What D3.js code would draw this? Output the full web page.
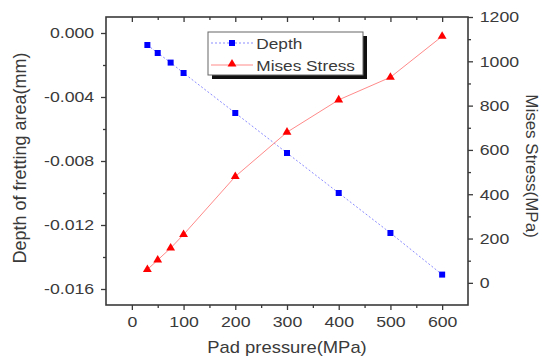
<!DOCTYPE html>
<html>
<head>
<meta charset="utf-8">
<script src="https://cdn.jsdelivr.net/npm/d3@7"></script>
<style>
  body { margin: 0; background: #fff; }
  svg { display: block; font-family: "Liberation Sans", Arial, sans-serif; }
</style>
</head>
<body>
<div id="chart"></div>
<script>
// pad pressure (MPa)
const pressure = [30, 50, 75, 100, 200, 300, 400, 500, 600]
// depth of fretting area (mm)
const depth = [-0.00075, -0.00125, -0.00185, -0.0025, -0.005, -0.0075, -0.01, -0.0125, -0.0151]
// Mises stress (MPa)
const mises = [60, 103, 157, 218, 480, 680, 826, 928, 1113]

const xTicks = [0, 100, 200, 300, 400, 500, 600]
const xMinor = [50, 150, 250, 350, 450, 550]
const leftTicks = [-0.016, -0.012, -0.008, -0.004, 0.000]
const leftMinor = [-0.014, -0.010, -0.006, -0.002]
const rightTicks = [0, 200, 400, 600, 800, 1000, 1200]
const rightMinor = [100, 300, 500, 700, 900, 1100]

const W = 542, H = 357
const MARGIN = {left: 106, right: 74, top: 17, bottom: 52}
const STRETCH = "scale(1.18,1)"
const INK = "#3a3a3a"

const svg = d3.select("#chart").append("svg").attr("width", W).attr("height", H)

const x = d3.scaleLinear().domain([-50, 650]).range([MARGIN.left, W - MARGIN.right])
const yL = d3.scaleLinear().domain([-0.017, 0.001]).range([H - MARGIN.bottom, MARGIN.top])
const yR = d3.scaleLinear().domain([-100, 1200]).range([H - MARGIN.bottom, MARGIN.top])

const fmtL = v => d3.format(".3f")(v).replace("\u2212", "-")

function styleAxis(g) {
  g.select(".domain").remove()
  g.selectAll("line").attr("stroke", INK).attr("stroke-width", 1.3)
  g.selectAll("text")
    .attr("fill", INK)
    .style("font-size", "15px")
    .attr("transform", STRETCH)
}

// minor ticks first
svg.append("g").attr("transform", `translate(0,${H - MARGIN.bottom})`)
  .call(d3.axisBottom(x).tickValues(xMinor).tickSize(3).tickFormat(""))
  .call(styleAxis)
svg.append("g").attr("transform", `translate(0,${MARGIN.top})`)
  .call(d3.axisTop(x).tickValues(xMinor).tickSize(-3).tickFormat(""))
  .call(styleAxis)
svg.append("g").attr("transform", `translate(${MARGIN.left},0)`)
  .call(d3.axisLeft(yL).tickValues(leftMinor).tickSize(3).tickFormat(""))
  .call(styleAxis)
svg.append("g").attr("transform", `translate(${W - MARGIN.right},0)`)
  .call(d3.axisRight(yR).tickValues(rightMinor).tickSize(3).tickFormat(""))
  .call(styleAxis)

// major ticks
svg.append("g").attr("transform", `translate(0,${H - MARGIN.bottom})`)
  .call(d3.axisBottom(x).tickValues(xTicks).tickSize(5).tickPadding(6))
  .call(styleAxis)
svg.append("g").attr("transform", `translate(0,${MARGIN.top})`)
  .call(d3.axisTop(x).tickValues(xTicks).tickSize(-5).tickFormat(""))
  .call(styleAxis)
svg.append("g").attr("transform", `translate(${MARGIN.left},0)`)
  .call(d3.axisLeft(yL).tickValues(leftTicks).tickSize(5).tickPadding(5).tickFormat(fmtL))
  .call(styleAxis)
svg.append("g").attr("transform", `translate(${W - MARGIN.right},0)`)
  .call(d3.axisRight(yR).tickValues(rightTicks).tickSize(5).tickPadding(5).tickFormat(d3.format("d")))
  .call(styleAxis)

// frame
svg.append("rect")
  .attr("x", MARGIN.left).attr("y", MARGIN.top)
  .attr("width", W - MARGIN.left - MARGIN.right)
  .attr("height", H - MARGIN.top - MARGIN.bottom)
  .attr("fill", "none").attr("stroke", INK).attr("stroke-width", 1.6)

// depth series
svg.append("path")
  .datum(d3.zip(pressure, depth))
  .attr("d", d3.line().x(d => x(d[0])).y(d => yL(d[1])))
  .attr("fill", "none").attr("stroke", "#8c8cff").attr("stroke-width", 1)
  .attr("stroke-dasharray", "2,2")
svg.append("g").selectAll("rect")
  .data(d3.zip(pressure, depth))
  .join("rect")
  .attr("x", d => x(d[0]) - 3).attr("y", d => yL(d[1]) - 3)
  .attr("width", 6).attr("height", 6)
  .attr("fill", "#0000ff")

// mises series
const tri = d3.symbol().type(d3.symbolTriangle).size(34)
svg.append("path")
  .datum(d3.zip(pressure, mises))
  .attr("d", d3.line().x(d => x(d[0])).y(d => yR(d[1])))
  .attr("fill", "none").attr("stroke", "#ff8a8a").attr("stroke-width", 1)
svg.append("g").selectAll("path")
  .data(d3.zip(pressure, mises))
  .join("path")
  .attr("d", tri)
  .attr("transform", d => `translate(${x(d[0])},${yR(d[1])})`)
  .attr("fill", "#ff0000")

// legend
const lg = svg.append("g").attr("transform", "translate(208,32)")
lg.append("rect").attr("x", 4).attr("y", 4).attr("width", 155).attr("height", 43).attr("fill", "#111")
lg.append("rect").attr("x", 0).attr("y", 0).attr("width", 155).attr("height", 43)
  .attr("fill", "#fff").attr("stroke", "#666").attr("stroke-width", 1)
lg.append("line").attr("x1", 3).attr("x2", 45).attr("y1", 11).attr("y2", 11)
  .attr("stroke", "#8c8cff").attr("stroke-dasharray", "2,2")
lg.append("rect").attr("x", 21).attr("y", 8).attr("width", 6).attr("height", 6).attr("fill", "#0000ff")
lg.append("line").attr("x1", 3).attr("x2", 45).attr("y1", 33).attr("y2", 33).attr("stroke", "#ff8a8a")
lg.append("path").attr("d", tri).attr("transform", "translate(24,32)").attr("fill", "#ff0000")
lg.append("text").attr("x", 49).attr("y", 17).attr("transform", "scale(1.15,1) translate(-7,0)")
  .attr("fill", INK).style("font-size", "15px").text("Depth")
lg.append("text").attr("x", 49).attr("y", 39).attr("transform", "scale(1.15,1) translate(-7,0)")
  .attr("fill", INK).style("font-size", "15px").text("Mises Stress")

// axis titles
svg.append("text")
  .attr("transform", `translate(${(MARGIN.left + W - MARGIN.right) / 2},353) scale(1.15,1)`)
  .attr("text-anchor", "middle").attr("fill", INK).style("font-size", "16px")
  .text("Pad pressure(MPa)")
svg.append("text")
  .attr("transform", "translate(26,158) rotate(-90)")
  .attr("text-anchor", "middle").attr("fill", INK).style("font-size", "18px")
  .text("Depth of fretting area(mm)")
svg.append("text")
  .attr("transform", "translate(526,166) rotate(90)")
  .attr("text-anchor", "middle").attr("fill", INK).style("font-size", "17px")
  .text("Mises Stress(MPa)")
</script>
</body>
</html>
